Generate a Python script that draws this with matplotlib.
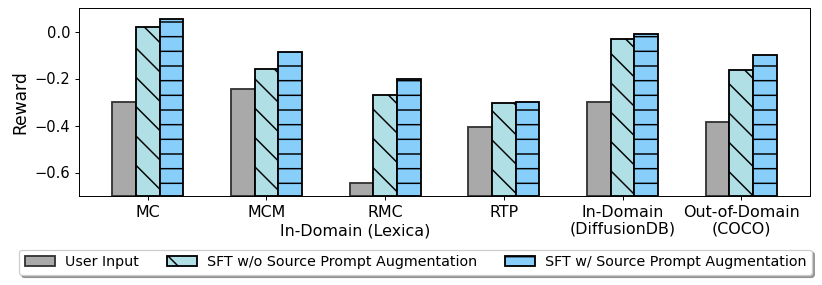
import matplotlib.pyplot as plt
import matplotlib.transforms as mtransforms
import numpy as np

categories = ['MC', 'MCM', 'RMC', 'RTP', 'In-Domain\n(DiffusionDB)', 'Out-of-Domain\n(COCO)']
user_input = [-0.302, -0.245, -0.643, -0.406, -0.302, -0.383]
sft_wo_aug = [0.019, -0.160, -0.272, -0.304, -0.034, -0.164]
sft_w_aug = [0.055, -0.089, -0.202, -0.298, -0.009, -0.100]
series_labels = ['User Input', 'SFT w/o Source Prompt Augmentation', 'SFT w/ Source Prompt Augmentation']

DPI = 88
plt.rcParams['hatch.linewidth'] = 1.2

fig = plt.figure(figsize=(822/DPI, 285/DPI), dpi=DPI)
ax = fig.add_axes([79/822, 1 - 196/285, (810-79)/822, (196-8)/285])

ymin, ymax = -0.7, 0.1
x = np.arange(len(categories))
w = 0.2
# bars grow up from the bottom of the axis
b1 = ax.bar(x - w, np.array(user_input) - ymin, w, bottom=ymin, color='darkgray',
            edgecolor='#333333', linewidth=1.5, label=series_labels[0])
b2 = ax.bar(x, np.array(sft_wo_aug) - ymin, w, bottom=ymin, color='powderblue',
            edgecolor='black', linewidth=1.5, hatch='\\', label=series_labels[1])
b3 = ax.bar(x + w, np.array(sft_w_aug) - ymin, w, bottom=ymin, color='lightskyblue',
            edgecolor='black', linewidth=1.5, hatch='-', label=series_labels[2])

ax.set_ylim(ymin, ymax)
ax.set_xlim(-0.58, 5.58)
ax.set_yticks([0.0, -0.2, -0.4, -0.6])
ax.set_xticks(x)
ax.set_xticklabels(categories, fontsize=13)
ax.tick_params(axis='y', labelsize=12)
ax.set_ylabel('Reward', fontsize=14)

trans = mtransforms.blended_transform_factory(ax.transData, fig.transFigure)
ax.text(1.745, 1 - 235/285, 'In-Domain (Lexica)', transform=trans, ha='center', va='baseline', fontsize=13)

fig.legend(handles=[b1, b2, b3], loc='lower center', bbox_to_anchor=(415.5/822, 0.01), ncol=3,
           fontsize=11.7, shadow=True, fancybox=True, handlelength=2.1, handletextpad=0.7,
           columnspacing=1.95)

fig.savefig('out.png', dpi=DPI)
